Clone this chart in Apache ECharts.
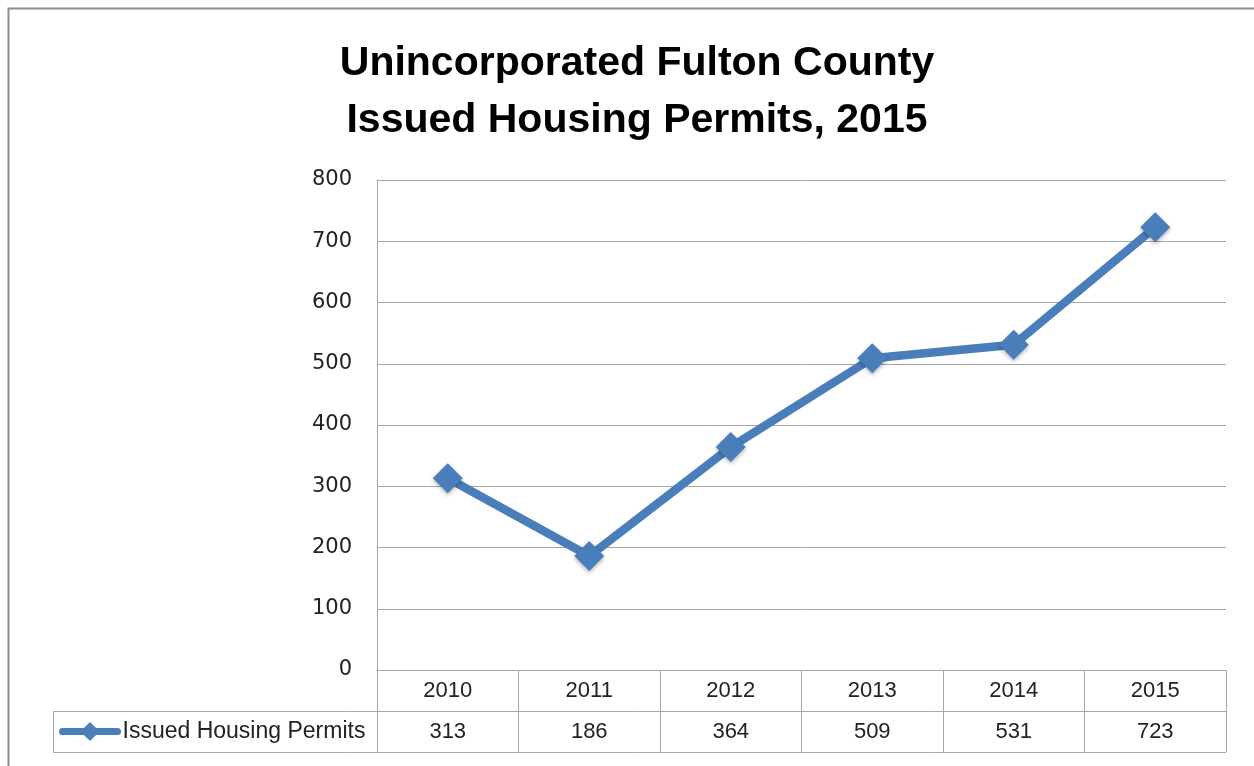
<!DOCTYPE html>
<html>
<head>
<meta charset="utf-8">
<script src="https://cdn.jsdelivr.net/npm/echarts@6/dist/echarts.min.js"></script>
<style>
  html, body { margin: 0; padding: 0; background: #fff; }
  #chart { width: 1254px; height: 766px; }
</style>
</head>
<body>
<div id="chart"></div>
<script>
var years = ["2010", "2011", "2012", "2013", "2014", "2015"];
var permits = [313, 186, 364, 509, 531, 723];
var seriesName = "Issued Housing Permits";
var yTicks = { min: 0, max: 800, interval: 100 };

var chart = echarts.init(document.getElementById("chart"));

// plot area edges (px)
var gLeft = 377, gRight = 1226, gTop = 180, gBottom = 670;
var rowH = 41;
var lineGray = "#a6a6a6";
var blue = "#4a7ebb";
var tableFont = "Liberation Sans";

var option = {
  animation: false,
  title: {
    text: "Unincorporated Fulton County\nIssued Housing Permits, 2015",
    left: 632,
    textAlign: "center",
    top: 30,
    textStyle: {
      fontFamily: "Liberation Sans",
      fontWeight: "bold",
      fontSize: 41,
      lineHeight: 57,
      color: "#000"
    }
  },
  legend: {
    left: 59,
    top: gBottom + rowH + 9,
    itemWidth: 55,
    itemHeight: 24,
    itemGap: 0,
    padding: 0,
    lineStyle: { width: 7, cap: "round" },
    textStyle: {
      fontFamily: tableFont,
      fontSize: 23,
      color: "#222"
    },
    data: [seriesName]
  },
  grid: {
    left: gLeft,
    right: 1254 - gRight,
    top: gTop,
    bottom: 766 - gBottom,
    containLabel: false
  },
  xAxis: [
    {
      type: "category",
      data: years,
      boundaryGap: true,
      axisLine: { lineStyle: { color: lineGray, width: 1 } },
      axisTick: {
        show: true,
        inside: false,
        length: rowH * 2,
        alignWithLabel: false,
        lineStyle: { color: lineGray }
      },
      axisLabel: {
        margin: 10,
        fontFamily: tableFont,
        fontSize: 22,
        color: "#222"
      },
      splitLine: { show: false }
    },
    {
      type: "category",
      position: "bottom",
      offset: rowH,
      data: permits.map(String),
      boundaryGap: true,
      axisLine: { show: false },
      axisTick: { show: false },
      axisLabel: {
        margin: 10,
        fontFamily: tableFont,
        fontSize: 22,
        color: "#222"
      }
    }
  ],
  yAxis: {
    type: "value",
    min: yTicks.min,
    max: yTicks.max,
    interval: yTicks.interval,
    axisLine: { show: true, lineStyle: { color: lineGray } },
    axisTick: { show: false },
    axisLabel: {
      margin: 25,
      fontFamily: "DejaVu Sans",
      fontSize: 21,
      color: "#222"
    },
    splitLine: { lineStyle: { color: lineGray, width: 1 } }
  },
  series: [
    {
      name: seriesName,
      type: "line",
      xAxisIndex: 0,
      data: permits,
      symbol: "diamond",
      symbolSize: 30,
      lineStyle: { color: blue, width: 8.5 },
      itemStyle: {
        color: blue,
        shadowBlur: 4,
        shadowColor: "rgba(0,0,0,0.3)",
        shadowOffsetY: 2
      },
      label: { show: false }
    }
  ],
  graphic: [
    {
      type: "rect",
      silent: true,
      shape: { x: 8.5, y: 8.5, width: 1300, height: 800 },
      style: { fill: "none", stroke: "#8c8c8c", lineWidth: 2 }
    },
    // table horizontal lines
    {
      type: "line",
      silent: true,
      shape: { x1: 53, y1: gBottom + rowH + 0.5, x2: gRight, y2: gBottom + rowH + 0.5 },
      style: { stroke: lineGray, lineWidth: 1 }
    },
    {
      type: "line",
      silent: true,
      shape: { x1: 53, y1: gBottom + rowH * 2 + 0.5, x2: gRight, y2: gBottom + rowH * 2 + 0.5 },
      style: { stroke: lineGray, lineWidth: 1 }
    },
    {
      type: "line",
      silent: true,
      shape: { x1: 53.5, y1: gBottom + rowH, x2: 53.5, y2: gBottom + rowH * 2 },
      style: { stroke: lineGray, lineWidth: 1 }
    }
  ]
};

chart.setOption(option);
</script>
</body>
</html>
